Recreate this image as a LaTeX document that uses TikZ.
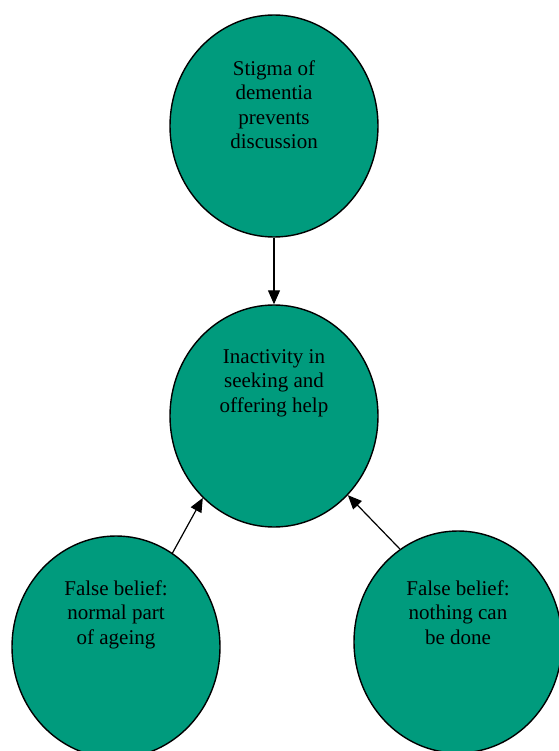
\documentclass[tikz,border=0pt]{standalone}
\usepackage{fontspec}
\setmainfont{Liberation Serif}
\usetikzlibrary{shapes.geometric,arrows.meta}

\definecolor{bubblegreen}{RGB}{0,155,125}

\begin{document}
\begin{tikzpicture}[x=1pt, y=-1pt,
	bubble/.style={ellipse, draw, line width=1.4pt, fill=bubblegreen,
		minimum width=208pt, minimum height=222pt, inner sep=0pt},
	words/.style={anchor=north, align=center, inner sep=0pt,
		font=\fontsize{21}{24.5}\selectfont},
	link/.style={line width=1.2pt, -{Triangle[length=14pt, width=12pt]}}]
	\useasboundingbox (0,0) rectangle (558,751);
	% the four bubbles
	\node[bubble] (stigma)   at (274,126) {};
	\node[bubble] (inactive) at (274,416) {};
	\node[bubble] (ageing)   at (116,647) {};
	\node[bubble] (nothing)  at (458,642) {};
	% texts sit in the upper half of each bubble
	\node[words] (stigmaT)   at ([yshift=-46pt]stigma.north)
		{Stigma of\\dementia\\prevents\\discussion};
	\node[words] (inactiveT) at ([yshift=-45pt]inactive.north)
		{Inactivity in\\seeking and\\offering help};
	\node[words] (ageingT)   at ([yshift=-45pt]ageing.north)
		{False belief:\\normal part\\of ageing};
	\node[words] (nothingT)  at ([yshift=-50pt]nothing.north)
		{False belief:\\nothing can\\be done};
	\path[link]
	(stigma)     edge (inactive)
	(ageing.59)  edge (inactive.229)
	(nothing.122) edge (inactive.313);
\end{tikzpicture}
\end{document}
